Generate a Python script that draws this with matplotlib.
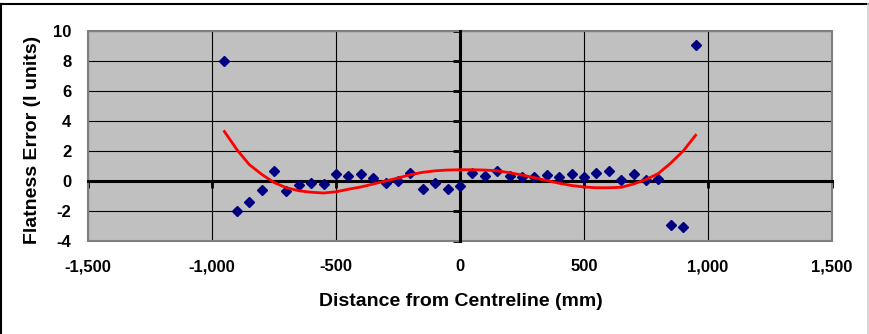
import matplotlib
matplotlib.use('Agg')
import matplotlib.pyplot as plt
from matplotlib.patches import Rectangle
from matplotlib.lines import Line2D

plt.rcParams['font.family'] = ['Liberation Sans', 'DejaVu Sans']
plt.rcParams['font.weight'] = 'bold'

# distance from centreline (mm)
dist = [-950, -900, -850, -800, -750, -700, -650, -600, -550, -500,
        -450, -400, -350, -300, -250, -200, -150, -100, -50,
        0, 50, 100, 150, 200, 250, 300, 350, 400, 450,
        500, 550, 600, 650, 700, 750, 800, 850, 900, 950]

# measured flatness error (I units)
flat_err = [8.0, -2.0, -1.4, -0.6, 0.7, -0.65, -0.25, -0.15, -0.2, 0.45,
            0.35, 0.45, 0.2, -0.1, 0.0, 0.55, -0.55, -0.1, -0.55,
            -0.35, 0.55, 0.35, 0.7, 0.35, 0.25, 0.3, 0.4, 0.25, 0.5,
            0.3, 0.55, 0.7, 0.05, 0.5, 0.1, 0.15, -2.95, -3.05, 9.05]

# trend line
trend = [3.3, 2.1, 1.1, 0.45, -0.1, -0.45, -0.65, -0.75, -0.8, -0.72,
         -0.55, -0.4, -0.2, 0.0, 0.2, 0.42, 0.58, 0.68, 0.73,
         0.75, 0.75, 0.73, 0.68, 0.55, 0.4, 0.22, 0.03, -0.15, -0.3,
         -0.4, -0.45, -0.45, -0.42, -0.2, 0.1, 0.5, 1.2, 2.0, 3.05]

xticks = [-1500, -1000, -500, 0, 500, 1000, 1500]
xtick_labels = ['-1,500', '-1,000', '-500', '0', '500', '1,000', '1,500']
yticks = [-4, -2, 0, 2, 4, 6, 8, 10]
ytick_labels = ['-4', '-2', '0', '2', '4', '6', '8', '10']

W, H = 870, 334
fig = plt.figure(figsize=(W / 100, H / 100), dpi=100)
fig.patch.set_facecolor('white')

# outer chart border
fig.add_artist(Line2D([1.5 / W, 868.5 / W], [1 - 3.8 / H, 1 - 3.8 / H], color='black', lw=1.5))
fig.add_artist(Line2D([1.5 / W, 1.5 / W], [0, 1 - 3.8 / H], color='black', lw=1.5))
fig.add_artist(Line2D([868.5 / W, 868.5 / W], [0, 1 - 3.8 / H], color='#d0d0d0', lw=1.2))

ax = fig.add_axes([88 / W, 1 - 241 / H, 744 / W, 210 / H])
ax.set_facecolor('#c0c0c0')

ax.plot(dist, flat_err, linestyle='none', marker='D', ms=5.5,
        color='#000080', zorder=3)
ax.plot(dist, trend, color='#ff0000', lw=2.0, zorder=4)

ax.set_xlim(-1500, 1500)
ax.set_ylim(-4, 10)
ax.set_xticks(xticks)
ax.set_xticklabels(xtick_labels)
ax.set_yticks(yticks)
ax.set_yticklabels(ytick_labels)

ax.grid(True, color='#000000', lw=0.8)
ax.set_axisbelow(True)

# zero axes through the middle
for s in ['left', 'bottom']:
    ax.spines[s].set_visible(False)
ax.spines['right'].set_position(('data', 0))
ax.spines['top'].set_position(('data', 0))
for s in ['right', 'top']:
    ax.spines[s].set_color('black')
    ax.spines[s].set_linewidth(2.2)
    ax.spines[s].set_zorder(2.5)

ax.tick_params(axis='y', left=False, labelleft=True, right=True, labelright=False,
               direction='in', length=5, width=2, pad=12, labelsize=12)
ax.tick_params(axis='x', bottom=False, labelbottom=True, top=True, labeltop=False,
               direction='in', length=5, width=2, pad=13, labelsize=12)
for t in ax.get_xticklabels() + ax.get_yticklabels():
    t.set_fontweight('bold')

ax.add_patch(Rectangle((0, 0), 1, 1, transform=ax.transAxes, fill=False,
                       ec='#808080', lw=1.5, clip_on=False, zorder=2))

fig.text(461 / W, 1 - 301 / H, 'Distance from Centreline (mm)', ha='center', va='center',
         fontsize=14, fontweight='bold')
fig.text(33 / W, 1 - 140 / H, 'Flatness Error (I units)', ha='center', va='center',
         rotation=90, fontsize=14, fontweight='bold')

fig.savefig('out.png', dpi=100)
